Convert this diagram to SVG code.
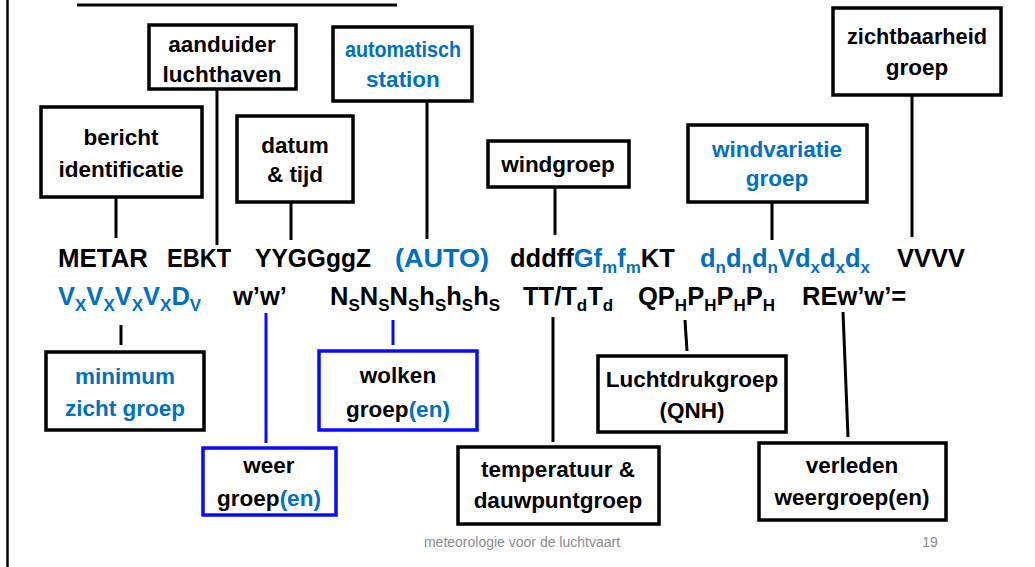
<svg xmlns="http://www.w3.org/2000/svg" width="1035" height="567" viewBox="0 0 1035 567">
  <style>
    .box { fill: #ffffff; stroke: #000000; stroke-width: 3.5; }
    .box.blue { stroke: #0a0aff; }
    .lbl { font-family: "Liberation Sans", Arial, sans-serif; font-weight: bold; font-size: 22.5px; fill: #000000; text-anchor: middle; }
    .code { font-family: "Liberation Sans", Arial, sans-serif; font-weight: bold; font-size: 25.5px; fill: #000000; }
    .b { fill: #0070c0; }
    .sub { font-size: 17px; }
    .link { stroke: #000000; stroke-width: 3; fill: none; }
    .link.blue { stroke: #0a0aff; }
    .foot { font-family: "Liberation Sans", Arial, sans-serif; font-size: 14px; fill: #8c8c8c; }
  </style>

  <rect x="0" y="0" width="1035" height="567" fill="#ffffff"/>

  <!-- page frame: left rule and title underline -->
  <line x1="7.5" y1="0" x2="7.5" y2="567" stroke="#000000" stroke-width="2.5"/>
  <line x1="77" y1="5" x2="397" y2="5" stroke="#000000" stroke-width="3"/>

  <!-- connectors -->
  <g id="connectors">
    <line class="link" x1="116" y1="197" x2="116" y2="238"/>
    <line class="link" x1="217" y1="89" x2="217" y2="245"/>
    <line class="link" x1="291" y1="202" x2="291" y2="240"/>
    <line class="link" x1="427" y1="101" x2="427" y2="239"/>
    <line class="link" x1="555" y1="187" x2="555" y2="235"/>
    <line class="link" x1="772" y1="202" x2="772" y2="240"/>
    <line class="link" x1="912" y1="95" x2="912" y2="237"/>
    <line class="link" x1="121" y1="325" x2="121" y2="345"/>
    <line class="link blue" x1="266" y1="313" x2="266" y2="443"/>
    <line class="link blue" x1="393" y1="320" x2="393" y2="345"/>
    <line class="link" x1="553" y1="317" x2="553" y2="442"/>
    <line class="link" x1="685" y1="320" x2="687" y2="351"/>
    <line class="link" x1="843" y1="312" x2="848" y2="437"/>
  </g>

  <!-- upper boxes -->
  <g id="node-luchthaven">
    <rect class="box" x="149" y="25" width="147" height="64"/>
    <text class="lbl" x="222" y="52">aanduider</text>
    <text class="lbl" x="222" y="82">luchthaven</text>
  </g>
  <g id="node-bericht">
    <rect class="box" x="41" y="107" width="161" height="90"/>
    <text class="lbl" x="121" y="145">bericht</text>
    <text class="lbl" x="121" y="177">identificatie</text>
  </g>
  <g id="node-datum">
    <rect class="box" x="237" y="116" width="116" height="86"/>
    <text class="lbl" x="295" y="153">datum</text>
    <text class="lbl" x="295" y="182">&amp; tijd</text>
  </g>
  <g id="node-auto">
    <rect class="box" x="333" y="27" width="139" height="74"/>
    <text class="lbl b" x="403" y="57" textLength="116" lengthAdjust="spacingAndGlyphs">automatisch</text>
    <text class="lbl b" x="403" y="87">station</text>
  </g>
  <g id="node-wind">
    <rect class="box" x="488" y="141" width="141" height="46"/>
    <text class="lbl" x="558" y="172">windgroep</text>
  </g>
  <g id="node-windvariatie">
    <rect class="box" x="688" y="125" width="179" height="77"/>
    <text class="lbl b" x="777" y="157">windvariatie</text>
    <text class="lbl b" x="777" y="186">groep</text>
  </g>
  <g id="node-zicht">
    <rect class="box" x="833" y="8" width="168" height="87"/>
    <text class="lbl" x="917" y="44" textLength="140" lengthAdjust="spacingAndGlyphs">zichtbaarheid</text>
    <text class="lbl" x="917" y="75">groep</text>
  </g>

  <!-- METAR code line 1 -->
  <g id="code-line-1">
    <text class="code" x="58" y="267" textLength="90" lengthAdjust="spacingAndGlyphs">METAR</text>
    <text class="code" x="167" y="267" textLength="64" lengthAdjust="spacingAndGlyphs">EBKT</text>
    <text class="code" x="255" y="267" textLength="116" lengthAdjust="spacingAndGlyphs">YYGGggZ</text>
    <text class="code b" x="395" y="267" textLength="94" lengthAdjust="spacingAndGlyphs">(AUTO)</text>
    <text class="code" x="510" y="267">dddff<tspan class="b">Gf<tspan class="sub" dy="6">m</tspan><tspan dy="-6">f</tspan><tspan class="sub" dy="6">m</tspan></tspan><tspan dy="-6">KT</tspan></text>
    <text class="code b" x="700" y="267">d<tspan class="sub" dy="6">n</tspan><tspan dy="-6">d</tspan><tspan class="sub" dy="6">n</tspan><tspan dy="-6">d</tspan><tspan class="sub" dy="6">n</tspan><tspan dy="-6">Vd</tspan><tspan class="sub" dy="6">x</tspan><tspan dy="-6">d</tspan><tspan class="sub" dy="6">x</tspan><tspan dy="-6">d</tspan><tspan class="sub" dy="6">x</tspan></text>
    <text class="code" x="897" y="267" textLength="68" lengthAdjust="spacingAndGlyphs">VVVV</text>
  </g>

  <!-- METAR code line 2 -->
  <g id="code-line-2">
    <text class="code b" x="58" y="305">V<tspan class="sub" dy="6">X</tspan><tspan dy="-6">V</tspan><tspan class="sub" dy="6">X</tspan><tspan dy="-6">V</tspan><tspan class="sub" dy="6">X</tspan><tspan dy="-6">V</tspan><tspan class="sub" dy="6">X</tspan><tspan dy="-6">D</tspan><tspan class="sub" dy="6">V</tspan></text>
    <text class="code" x="233" y="305">w’w’</text>
    <text class="code" x="330" y="305">N<tspan class="sub" dy="6">S</tspan><tspan dy="-6">N</tspan><tspan class="sub" dy="6">S</tspan><tspan dy="-6">N</tspan><tspan class="sub" dy="6">S</tspan><tspan dy="-6">h</tspan><tspan class="sub" dy="6">S</tspan><tspan dy="-6">h</tspan><tspan class="sub" dy="6">S</tspan><tspan dy="-6">h</tspan><tspan class="sub" dy="6">S</tspan></text>
    <text class="code" x="523" y="305">TT/T<tspan class="sub" dy="6">d</tspan><tspan dy="-6">T</tspan><tspan class="sub" dy="6">d</tspan></text>
    <text class="code" x="638" y="305">QP<tspan class="sub" dy="6">H</tspan><tspan dy="-6">P</tspan><tspan class="sub" dy="6">H</tspan><tspan dy="-6">P</tspan><tspan class="sub" dy="6">H</tspan><tspan dy="-6">P</tspan><tspan class="sub" dy="6">H</tspan></text>
    <text class="code" x="802" y="305">REw’w’=</text>
  </g>

  <!-- lower boxes -->
  <g id="node-minimum">
    <rect class="box" x="46" y="352" width="158" height="78"/>
    <text class="lbl b" x="125" y="384">minimum</text>
    <text class="lbl b" x="125" y="416">zicht groep</text>
  </g>
  <g id="node-weer">
    <rect class="box blue" x="203" y="448" width="133" height="67"/>
    <text class="lbl" x="269" y="473">weer</text>
    <text class="lbl" x="269" y="506">groep<tspan class="b">(en)</tspan></text>
  </g>
  <g id="node-wolken">
    <rect class="box blue" x="319" y="351" width="158" height="79"/>
    <text class="lbl" x="398" y="383">wolken</text>
    <text class="lbl" x="398" y="417">groep<tspan class="b">(en)</tspan></text>
  </g>
  <g id="node-temperatuur">
    <rect class="box" x="458" y="447" width="201" height="77"/>
    <text class="lbl" x="558" y="477">temperatuur &amp;</text>
    <text class="lbl" x="558" y="508">dauwpuntgroep</text>
  </g>
  <g id="node-luchtdruk">
    <rect class="box" x="598" y="356" width="188" height="76"/>
    <text class="lbl" x="692" y="387">Luchtdrukgroep</text>
    <text class="lbl" x="692" y="418">(QNH)</text>
  </g>
  <g id="node-verleden">
    <rect class="box" x="759" y="443" width="187" height="77"/>
    <text class="lbl" x="852" y="473">verleden</text>
    <text class="lbl" x="852" y="505">weergroep(en)</text>
  </g>

  <!-- footer -->
  <text class="foot" x="522" y="547" text-anchor="middle">meteorologie voor de luchtvaart</text>
  <text class="foot" x="930" y="547" text-anchor="middle">19</text>
</svg>
